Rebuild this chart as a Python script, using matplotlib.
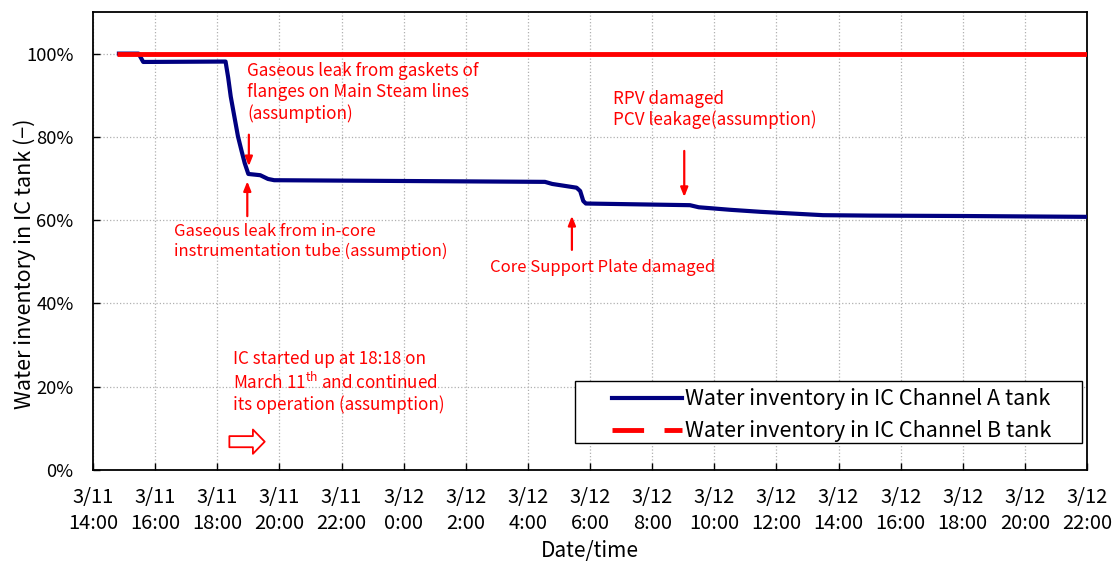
import matplotlib
matplotlib.use("Agg")
import matplotlib.pyplot as plt
import pandas as pd
from matplotlib.lines import Line2D
from matplotlib.patches import Rectangle

plt.rcParams['font.family'] = ['Noto Sans CJK JP', 'DejaVu Sans']
plt.rcParams['mathtext.fontset'] = 'custom'
plt.rcParams['mathtext.rm'] = 'Noto Sans CJK JP'
plt.rcParams['mathtext.it'] = 'Noto Sans CJK JP'

# ---- data ----
a_times = ["2011-03-11 14:46", "2011-03-11 15:28", "2011-03-11 15:37", "2011-03-11 18:16",
           "2011-03-11 18:21", "2011-03-11 18:26", "2011-03-11 18:33", "2011-03-11 18:40",
           "2011-03-11 18:47", "2011-03-11 18:53", "2011-03-11 19:00", "2011-03-11 19:23",
           "2011-03-11 19:38", "2011-03-11 19:50", "2011-03-12 04:33", "2011-03-12 04:47",
           "2011-03-12 05:34", "2011-03-12 05:41", "2011-03-12 05:47", "2011-03-12 05:52",
           "2011-03-12 09:13", "2011-03-12 09:30", "2011-03-12 10:30", "2011-03-12 11:30",
           "2011-03-12 12:30", "2011-03-12 13:30", "2011-03-12 15:00", "2011-03-12 18:00",
           "2011-03-12 22:00"]
a_values = [100, 100, 98, 98.1,
            94.3, 89.7, 84.9, 80.1,
            76.6, 73.7, 71.1, 70.8,
            69.9, 69.6, 69.2, 68.7,
            67.8, 67.0, 64.6, 64.0,
            63.6, 63.1, 62.5, 62.0,
            61.6, 61.2, 61.1, 61.0,
            60.8]
b_times = ["2011-03-11 14:46", "2011-03-12 22:00"]
b_values = [100, 100]

tick_times = pd.date_range("2011-03-11 14:00", "2011-03-12 22:00", freq="2h")
tick_labels = ["3/11\n14:00", "3/11\n16:00", "3/11\n18:00", "3/11\n20:00", "3/11\n22:00",
               "3/12\n0:00", "3/12\n2:00", "3/12\n4:00", "3/12\n6:00", "3/12\n8:00",
               "3/12\n10:00", "3/12\n12:00", "3/12\n14:00", "3/12\n16:00", "3/12\n18:00",
               "3/12\n20:00", "3/12\n22:00"]
y_ticks = [0, 20, 40, 60, 80, 100]
y_labels = ["0%", "20%", "40%", "60%", "80%", "100%"]

T = pd.to_datetime
fig = plt.figure(figsize=(11.18, 5.63), dpi=100)
ax = fig.add_axes([0.0832, 0.1652, 0.8891, 0.8135])

ax.plot(T(a_times), a_values, color='#000080', lw=3.0, solid_capstyle='butt', zorder=3)
ax.plot(T(b_times), b_values, color='#ff0000', lw=3.5, solid_capstyle='butt', zorder=4)

ax.set_xlim(tick_times[0], tick_times[-1])
ax.set_ylim(0, 110)
ax.set_xticks(tick_times)
ax.set_xticklabels(tick_labels, fontsize=14.5, linespacing=1.36)
ax.set_yticks(y_ticks)
ax.set_yticklabels(y_labels, fontsize=13.2)
ax.tick_params(direction='in', length=5, width=1)
ax.tick_params(axis='x', pad=12)
ax.tick_params(axis='y', pad=14)
ax.grid(True, color='#b0b0b0', linestyle=':', linewidth=0.9)
for s in ax.spines.values():
    s.set_linewidth(1.3)

ax.set_ylabel("Water inventory in IC tank (−)", fontsize=15.5)
ax.yaxis.set_label_coords(-0.057, 0.45)
ax.set_xlabel("Date/time", fontsize=15, labelpad=4)

red = '#ff0000'
tfs = 12.3
ap = dict(arrowstyle='-|>,head_length=0.55,head_width=0.22', color=red, lw=1.6)
ax.text(T("2011-03-11 18:58"), 97.9, "Gaseous leak from gaskets of\nflanges on Main Steam lines\n(assumption)",
        color=red, fontsize=tfs, va='top', ha='left', linespacing=1.2)
ax.annotate("", xy=(T("2011-03-11 19:01"), 72.3), xytext=(T("2011-03-11 19:01"), 81.2), arrowprops=ap)
ax.text(T("2011-03-11 16:37"), 59.4, "Gaseous leak from in-core\ninstrumentation tube (assumption)",
        color=red, fontsize=12.0, va='top', ha='left', linespacing=1.2)
ax.annotate("", xy=(T("2011-03-11 18:58"), 70.0), xytext=(T("2011-03-11 18:58"), 60.3), arrowprops=ap)
ax.text(T("2011-03-12 02:47"), 48.6, "Core Support Plate damaged",
        color=red, fontsize=12.0, va='center', ha='left')
ax.annotate("", xy=(T("2011-03-12 05:25"), 61.7), xytext=(T("2011-03-12 05:25"), 52.2), arrowprops=ap)
ax.text(T("2011-03-12 06:44"), 91.3, "RPV damaged\nPCV leakage(assumption)",
        color=red, fontsize=tfs, va='top', ha='left', linespacing=1.2)
ax.annotate("", xy=(T("2011-03-12 09:02"), 64.9), xytext=(T("2011-03-12 09:02"), 77.3), arrowprops=ap)
ax.text(T("2011-03-11 18:30"), 28.8,
        "IC started up at 18:18 on\nMarch 11$^{\\mathrm{th}}$ and continued\nits operation (assumption)",
        color=red, fontsize=tfs, va='top', ha='left', linespacing=1.2)
ax.annotate("", xy=(T("2011-03-11 19:37"), 6.8), xytext=(T("2011-03-11 18:18"), 6.8),
            arrowprops=dict(arrowstyle='simple,head_length=0.85,head_width=1.75,tail_width=0.8',
                            fc='white', ec=red, lw=1.3))

# legend frame
ax.add_patch(Rectangle((0.4849, 0.059), 0.510, 0.1354, transform=ax.transAxes,
                       fill=True, fc='white', ec='black', lw=1.0, zorder=5))
handles = [Line2D([], [], color='#000080', lw=3.0),
           Line2D([], [], color='#ff0000', lw=3.5, dashes=(6.5, 4.2))]
leg = ax.legend(handles, ["Water inventory in IC Channel A tank", "Water inventory in IC Channel B tank"],
                loc='center left', bbox_to_anchor=(0.5225, 0.1195), fontsize=15.5, frameon=False,
                handlelength=3.25, borderpad=0.0, labelspacing=0.45, handletextpad=0.12, borderaxespad=0)
leg.set_zorder(6)

fig.savefig("out.png", dpi=100)
